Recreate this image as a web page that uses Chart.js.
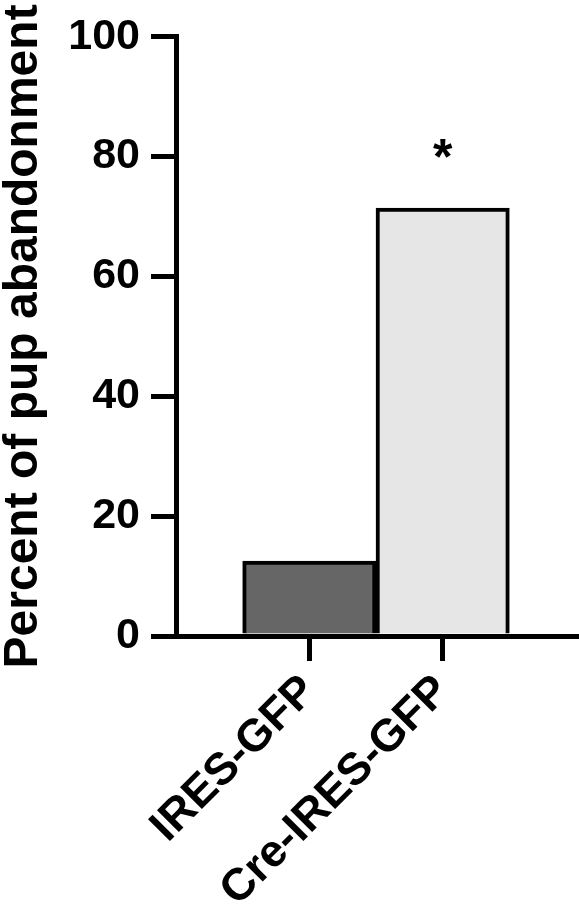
<!DOCTYPE html>
<html>
<head>
<meta charset="utf-8">
<script src="https://cdn.jsdelivr.net/npm/chart.js@4/dist/chart.umd.min.js"></script>
<style>
  html, body { margin: 0; padding: 0; background: #fff; }
  canvas { display: block; }
</style>
</head>
<body>
<canvas id="abandonChart" width="579" height="912"></canvas>
<script>
// groups, with empty slots either side so the axis runs past the bars
const groups = ['', 'IRES-GFP', 'Cre-IRES-GFP', ''];
const abandonPct = [null, 12.5, 71.4, null];
const barColors = ['#ffffff', '#666666', '#e6e6e6', '#ffffff'];
const significance = ['', '', '*', ''];
const starLevel = [null, null, 81, null];
const yTicks = [0, 20, 40, 60, 80, 100];

const fontFamily = '"Liberation Sans", Arial, sans-serif';

// draws the significance star above the bar
const starPlugin = {
    id: 'starPlugin',
    afterDatasetsDraw(chart) {
        const { ctx, scales: { x, y } } = chart;
        ctx.save();
        ctx.fillStyle = '#000';
        ctx.font = 'bold 50px ' + fontFamily;
        ctx.textAlign = 'center';
        ctx.textBaseline = 'middle';
        significance.forEach((s, i) => {
            if (!s) return;
            ctx.fillText(s, x.getPixelForValue(i), y.getPixelForValue(starLevel[i]) + 10);
        });
        ctx.restore();
    }
};

const ctx = document.getElementById('abandonChart').getContext('2d');
new Chart(ctx, {
    type: 'bar',
    data: {
        labels: groups,
        datasets: [{
            data: abandonPct,
            backgroundColor: barColors,
            borderColor: '#000',
            borderWidth: 4,
            borderSkipped: 'start',
            categoryPercentage: 1,
            barPercentage: 1
        }]
    },
    options: {
        responsive: false,
        animation: false,
        layout: { padding: { top: 35, right: 3, left: 0, bottom: 0 } },
        scales: {
            x: {
                offset: false,
                afterFit: (scale) => {
                    scale.height = 276;
                    scale.paddingLeft = 0;
                    scale.paddingRight = 0;
                },
                border: { display: true, width: 5, color: '#000' },
                grid: {
                    offset: false,
                    drawOnChartArea: false,
                    tickLength: 25,
                    lineWidth: 5,
                    color: (c) => (groups[c.index] ? '#000' : 'rgba(0,0,0,0)')
                },
                ticks: {
                    autoSkip: false,
                    minRotation: 45,
                    maxRotation: 45,
                    padding: 4,
                    color: '#000',
                    font: { family: fontFamily, size: 45, weight: 'bold' }
                }
            },
            y: {
                min: 0,
                max: 100,
                afterFit: (scale) => { scale.width = 176; },
                afterBuildTicks: (scale) => { scale.ticks = yTicks.map(v => ({ value: v })); },
                border: { display: true, width: 5, color: '#000' },
                grid: {
                    drawOnChartArea: false,
                    tickLength: 25,
                    lineWidth: 5,
                    color: '#000'
                },
                ticks: {
                    padding: 11,
                    color: '#000',
                    font: { family: fontFamily, size: 43, weight: 'bold' }
                },
                title: {
                    display: true,
                    text: 'Percent of pup abandonment',
                    color: '#000',
                    padding: 0,
                    font: { family: fontFamily, size: 48, weight: 'bold', lineHeight: 1 }
                }
            }
        },
        plugins: {
            legend: { display: false },
            tooltip: { enabled: false }
        }
    },
    plugins: [starPlugin]
});
</script>
</body>
</html>
